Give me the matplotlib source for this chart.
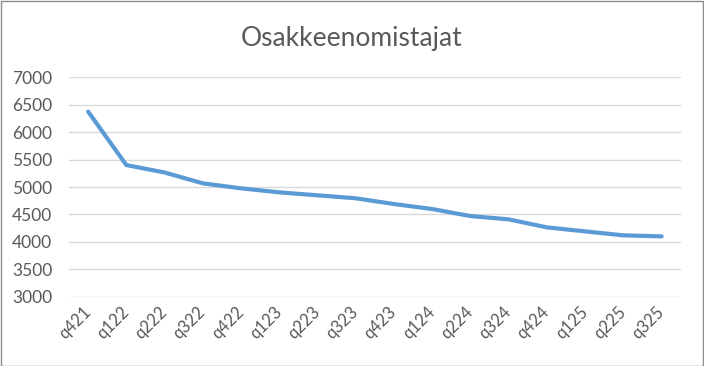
import matplotlib.pyplot as plt
from matplotlib.patches import Rectangle

plt.rcParams['font.family'] = ['Lato', 'DejaVu Sans']

quarters = ['q421', 'q122', 'q222', 'q322', 'q422', 'q123', 'q223', 'q323',
            'q423', 'q124', 'q224', 'q324', 'q424', 'q125', 'q225', 'q325']
owners = [6375, 5400, 5265, 5067, 4976, 4903, 4849, 4795,
          4690, 4599, 4471, 4411, 4265, 4192, 4120, 4101]

fig = plt.figure(figsize=(7.04, 3.66), dpi=100)
ax = fig.add_axes([0.098, 0.189, 0.869, 0.600])

x = range(len(quarters))
ax.plot(x, owners, color='#5B9BD5', linewidth=3, solid_capstyle='round',
        solid_joinstyle='round', zorder=3)

ax.set_xlim(-0.5, len(quarters) - 0.5)
ax.set_ylim(3000, 7000)
ax.set_yticks(range(3000, 7001, 500))
ax.set_xticks(list(x))
ax.set_xticklabels(quarters, rotation=45, ha='right', va='center',
                   rotation_mode='anchor')
ax.yaxis.grid(True, color='#D9D9D9', linewidth=1)
ax.set_axisbelow(True)
for s in ax.spines.values():
    s.set_visible(False)
ax.tick_params(axis='y', length=0, pad=12, labelsize=12.5, labelcolor='#595959')
ax.tick_params(axis='x', length=0, pad=9, labelsize=12, labelcolor='#595959')

fig.text(0.5, 0.895, 'Osakkeenomistajat', ha='center', va='center',
         fontsize=19, color='#595959')

fig.patches.append(Rectangle((0.5 / 704, 0.5 / 366), 1 - 1.5 / 704, 1 - 1.5 / 366,
                             transform=fig.transFigure, fill=False,
                             edgecolor='#8C8C8C', linewidth=1))

fig.savefig('out.png', dpi=100)
